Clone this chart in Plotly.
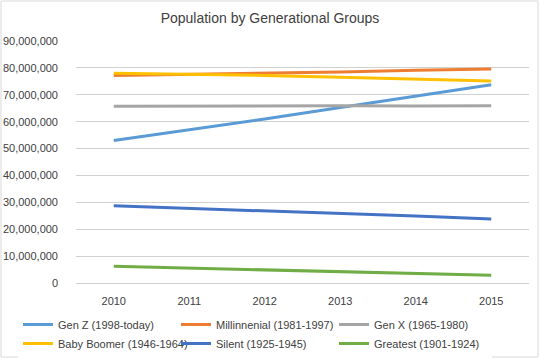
import plotly.graph_objects as go

years = ["2010", "2011", "2012", "2013", "2014", "2015"]
gen_z = [53.0e6, 57.0e6, 61.0e6, 65.3e6, 69.5e6, 73.7e6]
millennial = [77.2e6, 77.6e6, 78.0e6, 78.5e6, 79.1e6, 79.6e6]
gen_x = [65.7e6, 65.8e6, 65.9e6, 65.9e6, 65.8e6, 65.9e6]
baby_boomer = [78.0e6, 77.7e6, 77.2e6, 76.5e6, 75.9e6, 75.1e6]
silent = [28.7e6, 27.8e6, 26.9e6, 25.9e6, 24.9e6, 23.8e6]
greatest = [6.2e6, 5.5e6, 4.8e6, 4.1e6, 3.5e6, 2.9e6]

series = [
    ("Gen Z (1998-today)", gen_z, "#5B9BD5"),
    ("Millinnenial (1981-1997)", millennial, "#ED7D31"),
    ("Gen X (1965-1980)", gen_x, "#A5A5A5"),
    ("Baby Boomer (1946-1964)", baby_boomer, "#FFC000"),
    ("Silent (1925-1945)", silent, "#4472C4"),
    ("Greatest (1901-1924)", greatest, "#70AD47"),
]

fig = go.Figure()
for name, vals, color in series:
    fig.add_trace(go.Scatter(x=years, y=vals, name=name, mode="lines",
                             line=dict(color=color, width=3)))

font_family = "Liberation Sans, Arial, sans-serif"
L, R, T, B = 76, 11, 41, 76
PW, PH = 540 - L - R, 359 - T - B
fig.update_layout(
    width=540, height=359,
    margin=dict(l=L, r=R, t=T, b=B, autoexpand=False),
    paper_bgcolor="white", plot_bgcolor="white",
    title=dict(text="Population by Generational Groups", x=0.5, xanchor="center",
               y=1 - 18 / 359, yanchor="middle",
               font=dict(family=font_family, size=14, color="#404040")),
    font=dict(family=font_family, size=11, color="#404040"),
    xaxis=dict(type="category", range=[-0.5, 5.5], showgrid=False,
               showline=True, linecolor="#D0D0D0", linewidth=1, automargin=False,
               ticks="", ticklabelstandoff=8,
               tickfont=dict(size=11, color="#404040")),
    yaxis=dict(range=[0, 90e6], dtick=10e6, tickformat=",", showgrid=True,
               gridcolor="#D0D0D0", gridwidth=1, zeroline=False, automargin=False,
               showline=False, ticks="", ticklabelstandoff=17,
               tickfont=dict(size=11, color="#404040")),
    legend=dict(orientation="h", xref="paper", yref="paper",
                x=(18 - L) / PW, xanchor="left", y=-(310 - (359 - B)) / PH, yanchor="top",
                entrywidth=113, entrywidthmode="pixels", itemwidth=30,
                font=dict(size=11, color="#404040"), tracegroupgap=0),
    shapes=[dict(type="rect", xref="paper", yref="paper",
                 x0=-(L - 1) / PW, x1=1 + (R - 2) / PW, y0=-(B - 2) / PH, y1=1 + (T - 1) / PH,
                 line=dict(color="#D9D9D9", width=1))],
)

fig.write_html("out.html", config={"displayModeBar": False},
               post_script="document.body.style.margin='0';document.body.style.padding='0';")
